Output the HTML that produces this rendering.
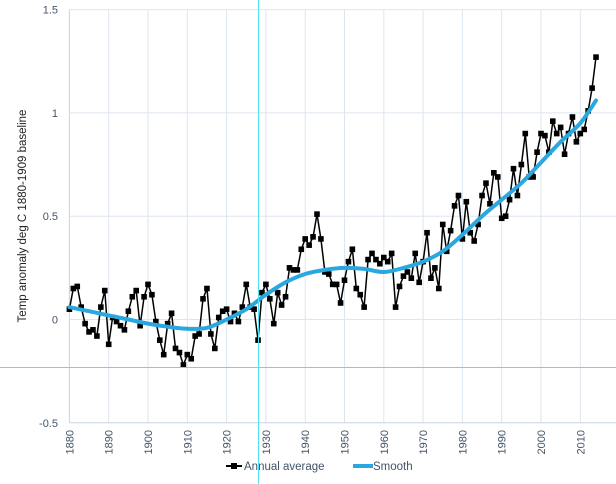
<!DOCTYPE html>
<html><head><meta charset="utf-8"><style>
body{margin:0;background:#fff;width:616px;height:484px;overflow:hidden;font-family:"Liberation Sans",sans-serif}
svg{display:block}
</style></head><body>
<svg id="chart" width="616" height="484" viewBox="0 0 616 484" xmlns="http://www.w3.org/2000/svg">
<g id="grid"></g>
<g id="axes"></g>
<g id="series"></g>
<text transform="translate(26,216) rotate(-90)" text-anchor="middle" font-size="11.5" fill="#222">Temp anomaly deg C 1880-1909 baseline</text>
<g>
 <g>
  <line x1="226" y1="466" x2="242" y2="466" stroke="#000" stroke-width="2"/>
  <rect x="231" y="463" width="6" height="6" fill="#000"/>
  <text x="244" y="470" font-size="11.5" fill="#44546a">Annual average</text>
 </g>
 <g>
  <line x1="353" y1="466" x2="373" y2="466" stroke="#29a8e0" stroke-width="4"/>
  <text x="373" y="470" font-size="11.5" fill="#44546a">Smooth</text>
 </g>
</g>
<line x1="258.5" y1="0" x2="258.5" y2="484" stroke="#4fe3f0" stroke-width="1"/>
<line x1="0" y1="367.5" x2="616" y2="367.5" stroke="#4fe3f0" stroke-width="1"/>
</svg>
<script>
const startYear = 1880;
const annualValues = [0.05,0.15,0.16,0.06,-0.02,-0.06,-0.05,-0.08,0.06,0.14,
-0.12,0.01,-0.01,-0.03,-0.05,0.04,0.11,0.14,-0.03,0.11,
0.17,0.12,-0.01,-0.10,-0.17,-0.02,0.03,-0.14,-0.16,-0.22,
-0.17,-0.19,-0.08,-0.07,0.10,0.15,-0.07,-0.14,0.01,0.04,
0.05,-0.01,0.03,-0.01,0.06,0.17,0.06,0.05,-0.10,0.13,
0.17,0.10,-0.02,0.13,0.07,0.11,0.25,0.24,0.24,0.34,
0.39,0.36,0.40,0.51,0.39,0.23,0.22,0.17,0.17,0.08,
0.19,0.28,0.34,0.15,0.12,0.06,0.29,0.32,0.29,0.27,
0.30,0.28,0.32,0.06,0.16,0.21,0.23,0.20,0.32,
0.18,0.28,0.42,0.20,0.25,0.15,0.46,0.33,0.43,0.55,
0.60,0.39,0.57,0.42,0.38,0.46,0.60,0.66,0.56,0.71,
0.69,0.49,0.50,0.58,0.73,0.60,0.75,0.90,0.69,0.69,
0.81,0.90,0.89,0.81,0.96,0.90,0.93,0.80,0.90,0.98,
0.86,0.90,0.92,1.01,1.12,1.27];
const smoothYears = [1880,1885,1890,1895,1900,1905,1910,1915,1920,1925,1930,1935,1940,1945,1950,1955,1960,1965,1970,1975,1980,1985,1990,1995,2000,2005,2010,2014];
const smoothValues = [0.06,0.04,0.02,0.0,-0.02,-0.035,-0.045,-0.04,0.0,0.05,0.12,0.18,0.22,0.24,0.25,0.245,0.23,0.25,0.28,0.33,0.41,0.50,0.58,0.66,0.76,0.86,0.95,1.06];
const yTicks = [1.5,1,0.5,0,-0.5];
const yTickLabels = ["1.5","1","0.5","0","-0.5"];
const xTicks = [1880,1890,1900,1910,1920,1930,1940,1950,1960,1970,1980,1990,2000,2010,2020];

const NS="http://www.w3.org/2000/svg";
const X0=69.4, PX=3.93;
function xs(yr){return X0+(yr-1880)*PX;}
function ys(v){return 319.5-v*206.6;}
function mk(t,a,p){const e=document.createElementNS(NS,t);for(const k in a)e.setAttribute(k,a[k]);p.appendChild(e);return e;}
const grid=document.getElementById('grid'),axes=document.getElementById('axes'),ser=document.getElementById('series');
xTicks.forEach(t=>{
 const l=mk('line',{x1:xs(t),x2:xs(t),y1:ys(1.5),y2:ys(-0.5),stroke:t===1880?'#c5d3e6':'#dde6f0','stroke-width':1},grid);
 
 
 const tx=mk('text',{transform:`translate(${xs(t)+4},430) rotate(-90)`,'text-anchor':'end','font-size':'11','fill':'#44546a'},axes);
 tx.textContent=String(t);
 
 
});
yTicks.forEach((t,i)=>{
 const l=mk('line',{x1:xs(1880),x2:616,y1:ys(t),y2:ys(t),stroke:t===-0.5?'#c5d3e6':'#dde6f0','stroke-width':1},grid);
 
 
 const tx=mk('text',{x:58,y:ys(t)+4,'text-anchor':'end','font-size':'11','fill':'#44546a'},axes);
 tx.textContent=yTickLabels[i];
 
 
});
// smooth (catmull-rom)
const pts=smoothYears.map((y,i)=>[xs(y),ys(smoothValues[i])]);
let d='M'+pts[0][0].toFixed(1)+','+pts[0][1].toFixed(1);
for(let i=0;i<pts.length-1;i++){
 const p0=pts[Math.max(0,i-1)],p1=pts[i],p2=pts[i+1],p3=pts[Math.min(pts.length-1,i+2)];
 const c1=[p1[0]+(p2[0]-p0[0])/6,p1[1]+(p2[1]-p0[1])/6];
 const c2=[p2[0]-(p3[0]-p1[0])/6,p2[1]-(p3[1]-p1[1])/6];
 d+='C'+c1[0].toFixed(1)+','+c1[1].toFixed(1)+' '+c2[0].toFixed(1)+','+c2[1].toFixed(1)+' '+p2[0].toFixed(1)+','+p2[1].toFixed(1);
}
const sp=mk('path',{d:d,fill:'none',stroke:'#29a8e0','stroke-width':4,'stroke-linejoin':'round','stroke-linecap':'round'},ser);


// annual
let d2='';annualValues.forEach((v,i)=>{d2+=(i?'L':'M')+xs(startYear+i).toFixed(1)+','+ys(v).toFixed(1);});
const ap=mk('path',{d:d2,fill:'none',stroke:'#000','stroke-width':1.5,'stroke-linejoin':'round'},ser);


annualValues.forEach((v,i)=>{
 const r=mk('rect',{x:xs(startYear+i)-2.8,y:ys(v)-2.8,width:5.6,height:5.6,fill:'#000'},ser);
 
 
});
ser.appendChild(sp);
</script>
</body></html>
